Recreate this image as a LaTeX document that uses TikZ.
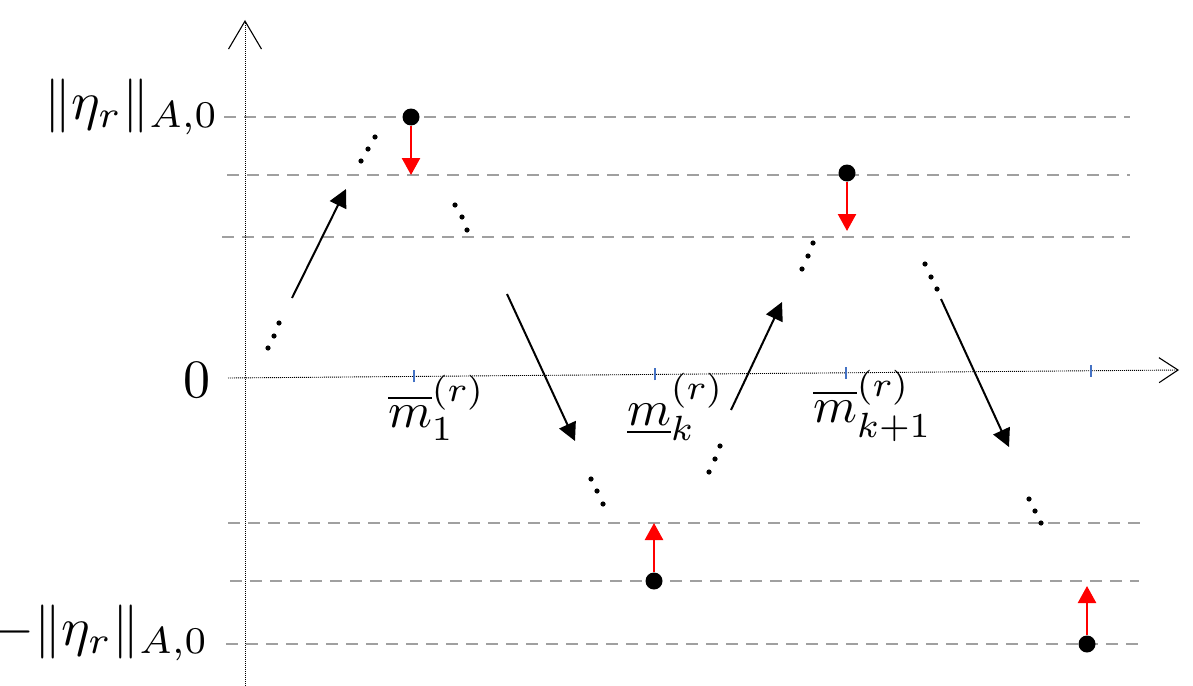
\documentclass[tikz,border=0pt]{standalone}
\usetikzlibrary{arrows.meta}
\definecolor{gridgray}{RGB}{160,160,160}
\definecolor{tickblue}{RGB}{68,114,196}
\begin{document}
\begin{tikzpicture}[x=1pt,y=-1pt,
  guide/.style={draw=gridgray, line width=1.6pt, dash pattern=on 12pt off 8pt},
  axisline/.style={draw=black, line width=0.9pt, dash pattern=on 1pt off 1pt},
  tickmark/.style={draw=tickblue, line width=2pt},
  moveline/.style={draw=black, line width=2pt, -{Triangle[length=18pt,width=18pt]}},
  shiftline/.style={draw=red, line width=2.5pt, -{Triangle[length=17pt,width=18pt]}},
  bigdot/.style={circle, fill=black, inner sep=0pt, minimum size=17pt},
  smalldot/.style={fill=black},
  biglab/.style={inner sep=0pt, scale=5.4},
  ticklab/.style={inner sep=0pt, scale=5.0}
]
\useasboundingbox (0,0) rectangle (1193,685);

% guide lines
\coordinate (g1a) at (224,117); \coordinate (g1b) at (1130,117);
\coordinate (g2a) at (227,175); \coordinate (g2b) at (1130,175);
\coordinate (g3a) at (222,237); \coordinate (g3b) at (1130,237);
\coordinate (g4a) at (228,523); \coordinate (g4b) at (1143,523);
\coordinate (g5a) at (230,581); \coordinate (g5b) at (1139,581);
\coordinate (g6a) at (226,644); \coordinate (g6b) at (1144,644);
\foreach \g in {1,...,6} \draw[guide] (g\g a) -- (g\g b);

% axes
\coordinate (xa) at (228,378); \coordinate (xb) at (1179,370);
\coordinate (ya) at (245,690); \coordinate (yb) at (245,20);
\draw[axisline, -{Straight Barb[length=19pt,width=25pt,line width=1.1pt]}] (xa) -- (xb);
\draw[axisline, -{Straight Barb[length=28pt,width=33pt,line width=1.1pt]}] (ya) -- (yb);

% ticks
\coordinate (t1) at (414,376.4);
\coordinate (t2) at (655,374.4);
\coordinate (t3) at (846,372.8);
\coordinate (t4) at (1091,370.7);
\foreach \t in {1,...,4} \draw[tickmark] ([yshift=-6pt]t\t) -- ([yshift=6pt]t\t);

% labels
\node[biglab, anchor=base east] (ltop) at (220,119) {$\|\eta_r\|_{A,0}$};
\node[biglab, anchor=base east] (lbot) at (210,645) {$-\|\eta_r\|_{A,0}$};
\node[biglab, anchor=base east] (lzero) at (212,397) {$0$};
\node[ticklab, anchor=base west] (lm1) at (387,427) {$\overline{m}_1^{(r)}$};
\node[ticklab, anchor=base west] (lmk) at (626,425) {$\underline{m}_k^{(r)}$};
\node[ticklab, anchor=base west] (lmk1) at (812,422) {$\overline{m}_{k+1}^{(r)}$};

% dotted continuations
\foreach \p in {(268,348),(274,336),(279,323),
                (361,161),(368,149),(375,137),
                (455,205),(462,217),(467,230),
                (591,479),(597,491),(603,504),
                (709,472),(715,459),(720,446),
                (802,269),(808,256),(813,243),
                (925,264),(931,277),(937,289),
                (1029,499),(1035,511),(1041,523)}
  \fill[smalldot] \p circle (2.6pt);

% black moves
\coordinate (m1s) at (292,298); \coordinate (m1e) at (346,189);
\coordinate (m2s) at (507,294); \coordinate (m2e) at (575,441);
\coordinate (m3s) at (731,410); \coordinate (m3e) at (782,302);
\coordinate (m4s) at (941,299); \coordinate (m4e) at (1009,447);
\foreach \m in {1,...,4} \draw[moveline] (m\m s) -- (m\m e);

% extreme points with red shifts
\node[bigdot] (p1) at (411,117) {};
\node[bigdot] (p2) at (847,173) {};
\node[bigdot] (p3) at (654,581) {};
\node[bigdot] (p4) at (1087,644) {};
\coordinate (r1) at (411,175);
\coordinate (r2) at (847,231);
\coordinate (r3) at (654,523);
\coordinate (r4) at (1087,586);
\foreach \r in {1,...,4} \draw[shiftline] (p\r) -- (r\r);
\end{tikzpicture}
\end{document}
